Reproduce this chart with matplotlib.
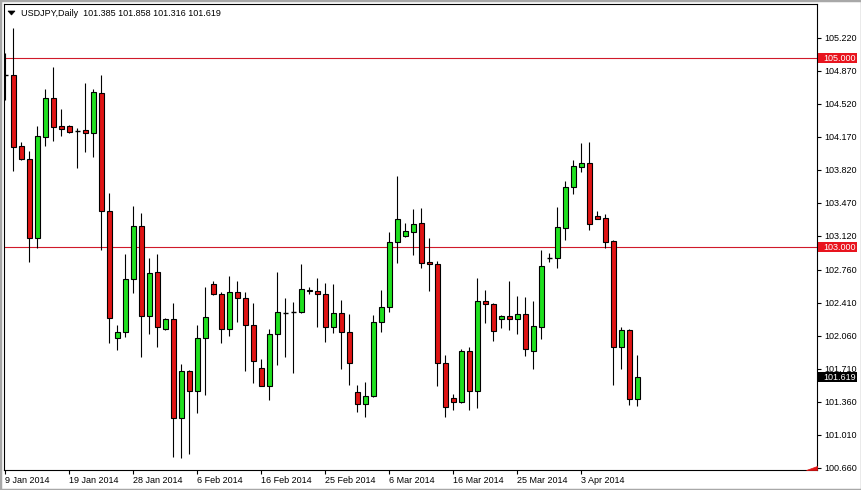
import matplotlib
matplotlib.use("Agg")
import matplotlib.pyplot as plt
import numpy as np
import pandas as pd
from matplotlib.patches import Rectangle, Polygon
from matplotlib.transforms import blended_transform_factory

plt.rcParams['font.family'] = ['Liberation Sans', 'DejaVu Sans']

# ---------------- data ----------------
symbol = "USDJPY,Daily"
start_date = "2014-01-09"
weekmask = "Sun Mon Tue Wed Thu Fri"

opens = [104.824, 104.824, 104.072, 103.930, 103.099, 104.170, 104.577, 104.284, 104.284, 104.231,
         104.241, 104.206, 104.634, 103.377, 102.032, 102.096, 102.658, 103.226, 102.274, 102.732,
         102.136, 102.234, 101.184, 101.686, 101.470, 102.032, 102.605, 102.507, 102.128, 102.520,
         102.457, 102.173, 101.714, 101.530, 102.075, 102.304, 102.308, 102.314, 102.537, 102.531,
         102.499, 102.149, 102.297, 102.104, 101.460, 101.332, 101.417, 102.202, 102.361, 103.050,
         103.120, 103.163, 103.252, 102.841, 102.817, 101.767, 101.396, 101.352, 101.898, 101.470,
         102.428, 102.394, 102.234, 102.267, 102.234, 102.287, 101.901, 102.157, 102.889, 102.889,
         103.207, 103.634, 103.852, 103.888, 103.329, 103.305, 103.064, 101.943, 102.120, 101.385]
highs = [105.058, 105.320, 104.111, 104.019, 104.284, 104.676, 104.912, 104.464, 104.290, 104.259,
         104.743, 104.673, 104.824, 103.576, 102.173, 102.923, 103.435, 103.364, 102.884, 102.923,
         102.248, 102.407, 101.760, 101.696, 102.173, 102.580, 102.640, 102.523, 102.693, 102.640,
         102.523, 102.407, 101.811, 102.128, 102.732, 102.457, 102.417, 102.818, 102.580, 102.669,
         102.616, 102.606, 102.438, 102.290, 101.537, 101.566, 102.279, 102.545, 103.156, 103.753,
         103.252, 103.400, 103.411, 103.093, 102.852, 101.855, 101.442, 101.917, 101.937, 102.672,
         102.545, 102.404, 102.279, 102.640, 102.481, 102.467, 102.428, 102.969, 102.934, 103.428,
         103.700, 103.923, 104.103, 104.114, 103.382, 103.350, 103.075, 102.149, 102.131, 101.858]
lows = [104.559, 103.810, 103.925, 102.845, 102.993, 104.072, 104.128, 104.178, 104.213, 103.841,
        104.011, 103.952, 102.966, 101.986, 101.908, 102.049, 102.516, 101.837, 102.078, 101.943,
        102.120, 100.777, 100.760, 100.802, 101.237, 101.431, 102.495, 101.986, 102.060, 102.208,
        101.689, 101.562, 101.527, 101.378, 101.752, 101.837, 101.661, 102.304, 102.502, 102.157,
        101.996, 102.092, 101.707, 101.537, 101.254, 101.195, 101.412, 102.102, 102.314, 102.828,
        103.110, 102.916, 102.775, 102.537, 101.530, 101.201, 101.275, 101.343, 101.275, 101.298,
        102.198, 102.004, 102.145, 102.120, 102.078, 101.847, 101.707, 102.025, 102.839, 102.781,
        103.078, 103.567, 103.799, 103.181, 103.297, 102.993, 101.534, 101.707, 101.325, 101.316]
closes = [104.824, 104.058, 103.930, 103.099, 104.178, 104.577, 104.276, 104.255, 104.223, 104.231,
          104.206, 104.647, 103.377, 102.244, 102.096, 102.658, 103.226, 102.274, 102.722, 102.147,
          102.234, 101.184, 101.686, 101.470, 102.032, 102.255, 102.499, 102.128, 102.520, 102.457,
          102.173, 101.795, 101.530, 102.076, 102.308, 102.304, 102.308, 102.552, 102.540, 102.499,
          102.149, 102.297, 102.102, 101.767, 101.332, 101.420, 102.202, 102.361, 103.050, 103.294,
          103.170, 103.241, 102.836, 102.817, 101.767, 101.301, 101.352, 101.898, 101.470, 102.428,
          102.393, 102.113, 102.269, 102.234, 102.287, 101.916, 102.163, 102.794, 102.889, 103.209,
          103.634, 103.860, 103.891, 103.241, 103.302, 103.057, 101.943, 102.120, 101.392, 101.619]

ytick_values = [105.220, 104.870, 104.520, 104.170, 103.820, 103.470, 103.120,
                102.760, 102.410, 102.060, 101.710, 101.360, 101.010, 100.660]
level_lines = [105.000, 103.000]
label_every = 8

# ---------------- styling ----------------
W, H = 862, 490
GREEN = '#1fe01f'
RED = '#e01414'
LEVEL = '#d01a2a'

fig = plt.figure(figsize=(W / 100, H / 100), dpi=100)
fig.patch.set_facecolor('white')
ax = fig.add_axes([4 / W, 20 / H, 813 / W, 466 / H])
ax.set_facecolor('white')

o = np.array(opens); h = np.array(highs); l = np.array(lows); c = np.array(closes)
x = np.arange(len(o))

ax.set_xlim(-0.1625, 101.4625)
ax.set_ylim(100.6356, 105.5774)

# level lines
for v in level_lines:
    ax.axhline(v, color=LEVEL, lw=0.8, zorder=1)

# wicks
ax.vlines(x, l, h, color='black', lw=0.8, zorder=2)

bw = 0.6
up = c > o
dn = c < o
eq = c == o
ax.bar(x[up], (c - o)[up], bottom=o[up], width=bw, color=GREEN,
       edgecolor='black', linewidth=0.8, zorder=3)
ax.bar(x[dn], (o - c)[dn], bottom=c[dn], width=bw, color=RED,
       edgecolor='black', linewidth=0.8, zorder=3)
ax.hlines(o[eq], x[eq] - bw / 2, x[eq] + bw / 2, color='black', lw=1.0, zorder=3)

# axes ticks
ax.yaxis.tick_right()
ax.set_yticks(ytick_values)
ax.set_yticklabels([f"{v:.3f}" for v in ytick_values])
ax.tick_params(axis='y', direction='out', length=3, width=0.8, pad=2.3,
               labelsize=6.5, colors='black')

dates = pd.bdate_range(start_date, periods=len(o), freq='C', weekmask=weekmask)
ax.set_xticks(x[::label_every])
ax.set_xticklabels([f"{d.day} {d.strftime('%b %Y')}" for d in dates[::label_every]],
                   ha='left')
ax.tick_params(axis='x', direction='out', length=3, width=0.8, pad=1.5,
               labelsize=6.5, colors='black')

for s in ax.spines.values():
    s.set_color('black')
    s.set_linewidth(0.8)

# price labels on the right axis
trans = blended_transform_factory(fig.transFigure, ax.transData)
box_h = 10 / (466 / (105.5774 - 100.6356))
def price_box(value, bg):
    r = Rectangle((818 / W, value - box_h / 2), 39 / W, box_h, transform=trans,
                  facecolor=bg, edgecolor='none', clip_on=False, zorder=10)
    ax.add_patch(r)
    ax.text(823 / W, value, f"{value:.3f}", transform=trans, color='white',
            fontsize=6.5, va='center', ha='left', clip_on=False, zorder=11)

for v in level_lines:
    price_box(v, '#e8141e')
price_box(closes[-1], 'black')

# header
fig.text(21 / W, 1 - 13 / H,
         f"{symbol}  {opens[-1]:.3f} {highs[-1]:.3f} {lows[-1]:.3f} {closes[-1]:.3f}",
         fontsize=6.5, va='center', ha='left', color='black')
fig.add_artist(Polygon([[8 / W, 1 - 11 / H], [15 / W, 1 - 11 / H], [11.5 / W, 1 - 15 / H]],
                       closed=True, transform=fig.transFigure, facecolor='black',
                       edgecolor='black', lw=0.5))

# chart-shift marker bottom right
fig.add_artist(Polygon([[806 / W, 1 - 470 / H], [817 / W, 1 - 470 / H], [817 / W, 1 - 466 / H]],
                       closed=True, transform=fig.transFigure, facecolor=RED,
                       edgecolor=RED, lw=0.5))

# outer window border
fig.add_artist(Rectangle((0, 0), 1, 1, transform=fig.transFigure, fill=False,
                         edgecolor='#a8a8a8', lw=2.5))

fig.savefig("out.png", dpi=100)
